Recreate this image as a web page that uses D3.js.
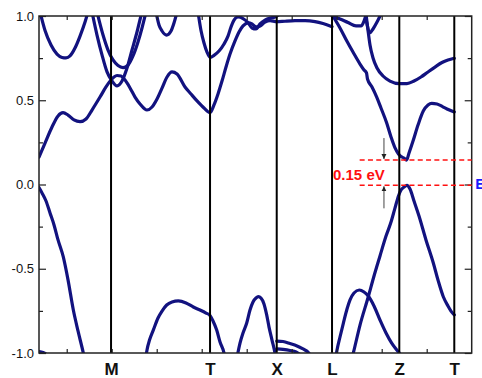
<!DOCTYPE html>
<html>
<head>
<meta charset="utf-8">
<script src="https://cdn.jsdelivr.net/npm/d3@7"></script>
<style>
  html, body { margin: 0; padding: 0; background: #fff; }
  svg { display: block; }
  text { font-family: "Liberation Sans", Arial, sans-serif; }
</style>
</head>
<body>
<svg id="chart" width="482" height="378"></svg>
<script>
// ---- k-path and energy axes ----
const kDomain = [0.384, 10];
const eDomain = [-1, 1];
const kTicks = [1, 2, 3, 4, 5, 6, 7, 8, 9];
const eTicksMajor = [-1, -0.5, 0, 0.5, 1];
const eTicksMinor = [-0.75, -0.25, 0.25, 0.75];

// high-symmetry points along the path
const kPoints = [1.985, 4.185, 5.667, 6.896, 8.391, 9.613];
const kLabels = ["M", "T", "X", "L", "Z", "T"];

// band edges around the gap (eV)
const vbm = -0.005;
const cbm = 0.145;

// ---- bands: [k, E(eV)] ----
const bandA = [
  [0.384,0.163],[0.518,0.246],[0.673,0.341],[0.807,0.407],[0.918,0.426],[1.029,0.412],
  [1.162,0.383],[1.296,0.373],[1.429,0.389],[1.562,0.442],[1.740,0.519],[1.873,0.579],
  [1.984,0.620],[2.051,0.638],[2.118,0.647],[2.207,0.644],[2.296,0.620],[2.407,0.573],
  [2.518,0.519],[2.629,0.478],[2.784,0.442],[2.896,0.460],[3.007,0.507],[3.118,0.572],
  [3.229,0.638],[3.340,0.668],[3.451,0.656],[3.629,0.579],[3.762,0.537],[3.896,0.496],
  [4.051,0.454],[4.185,0.427],[4.273,0.472],[4.362,0.537],[4.451,0.614],[4.540,0.697],
  [4.629,0.774],[4.740,0.852],[4.829,0.905],[4.918,0.941],[5.029,0.959],[5.118,0.953],
  [5.207,0.935],[5.296,0.941],[5.407,0.964],[5.518,0.973],[5.667,0.966],[5.851,0.969],
  [6.073,0.972],[6.296,0.973],[6.518,0.967],[6.696,0.955],[6.896,0.936]
];
const bandB = [
  [0.407,1.024],[0.518,0.914],[0.651,0.828],[0.784,0.774],[0.896,0.754],[0.984,0.751],
  [1.073,0.763],[1.184,0.810],[1.296,0.881],[1.407,0.964],[1.473,1.024]
];
const bandD = [
  [1.562,1.024],[1.673,0.887],[1.784,0.769],[1.896,0.668],[2.007,0.614],[2.118,0.585],
  [2.229,0.614],[2.340,0.691],[2.451,0.798],[2.562,0.905],[2.651,1.000],[2.696,1.036]
];
const bandE = [
  [1.673,1.024],[1.807,0.887],[1.918,0.798],[2.029,0.739],[2.140,0.706],[2.251,0.694],
  [2.362,0.709],[2.473,0.763],[2.584,0.846],[2.673,0.929],[2.762,1.024]
];
const bandG = [
  [2.984,1.024],[3.051,0.947],[3.118,0.911],[3.218,0.887],[3.318,0.911],[3.384,0.958],[3.451,1.024]
];
const bandH = [
  [3.918,1.024],[3.984,0.914],[4.051,0.840],[4.118,0.786],[4.191,0.754],[4.273,0.766],
  [4.384,0.792],[4.496,0.834],[4.584,0.881],[4.651,0.935],[4.718,0.976],[4.807,0.994],
  [4.918,0.985],[5.029,0.961],[5.118,0.929],[5.207,0.923],[5.296,0.953],[5.407,0.976],
  [5.518,0.988],[5.629,0.994],[5.740,1.012],[5.829,1.030]
];
const bandW1 = [
  [6.896,1.000],[7.073,0.982],[7.251,0.961],[7.429,0.941],[7.540,0.941],[7.607,0.970],[7.651,1.006]
];
const bandW2 = [
  [7.629,1.018],[7.673,0.953],[7.729,0.899],[7.807,0.923],[7.896,0.964],[7.984,1.012]
];
const bandUpperZ = [
  [7.651,1.012],[7.696,0.914],[7.740,0.828],[7.807,0.751],[7.896,0.691],[8.029,0.644],
  [8.184,0.614],[8.391,0.599],[8.562,0.599],[8.718,0.614],[8.873,0.638],[9.029,0.668],
  [9.184,0.697],[9.340,0.724],[9.473,0.739],[9.613,0.749]
];
const bandCB = [
  [6.924,0.996],[7.073,0.929],[7.222,0.853],[7.362,0.786],[7.518,0.715],[7.607,0.680],
  [7.662,0.662],[7.684,0.626],[7.784,0.579],[7.889,0.519],[7.984,0.454],[8.111,0.365],
  [8.207,0.282],[8.296,0.217],[8.373,0.181],[8.429,0.166],[8.496,0.157],[8.551,cbm],
  [8.607,0.187],[8.696,0.258],[8.807,0.353],[8.924,0.436],[9.029,0.472],[9.111,0.482],
  [9.229,0.478],[9.351,0.462],[9.451,0.448],[9.613,0.430]
];
const bandVB = [
  [7.329,-1.042],[7.369,-1.000],[7.518,-0.834],[7.702,-0.666],[7.829,-0.543],[7.962,-0.424],
  [8.096,-0.306],[8.207,-0.223],[8.296,-0.139],[8.373,-0.068],[8.429,-0.033],[8.496,-0.015],
  [8.562,vbm],[8.629,-0.027],[8.718,-0.098],[8.829,-0.187],[8.984,-0.329],[9.147,-0.466],
  [9.251,-0.567],[9.369,-0.666],[9.473,-0.721],[9.540,-0.751],[9.613,-0.774]
];
const bandLZ = [
  [6.962,-1.053],[7.007,-0.982],[7.073,-0.905],[7.147,-0.824],[7.229,-0.739],[7.296,-0.685],
  [7.384,-0.644],[7.502,-0.626],[7.607,-0.638],[7.702,-0.662],[7.829,-0.721],[7.962,-0.804],
  [8.096,-0.881],[8.222,-0.941],[8.318,-0.976],[8.391,-1.000],[8.451,-1.024]
];
const bandTX = [
  [4.773,-1.042],[4.851,-0.941],[4.918,-0.881],[5.000,-0.822],[5.073,-0.745],[5.140,-0.697],
  [5.207,-0.674],[5.258,-0.666],[5.318,-0.674],[5.384,-0.709],[5.444,-0.774],[5.496,-0.846],
  [5.562,-0.923],[5.629,-1.000],[5.651,-1.030]
];
const bandMT = [
  [2.751,-1.042],[2.784,-0.982],[2.840,-0.923],[2.924,-0.864],[3.029,-0.792],[3.118,-0.751],
  [3.222,-0.715],[3.340,-0.697],[3.480,-0.691],[3.651,-0.703],[3.813,-0.727],[3.962,-0.745],
  [4.096,-0.763],[4.184,-0.777],[4.251,-0.810],[4.333,-0.864],[4.407,-0.935],[4.496,-1.000],
  [4.518,-1.030]
];
const bandGammaVB = [
  [0.384,-0.018],[0.451,-0.050],[0.540,-0.098],[0.629,-0.169],[0.718,-0.240],[0.807,-0.329],
  [0.924,-0.430],[1.029,-0.566],[1.147,-0.745],[1.251,-0.869],[1.369,-1.000],[1.407,-1.047]
];
const bandGammaLow = [
  [0.384,-0.991],[0.473,-0.997],[0.540,-1.006],[0.584,-1.030]
];
const bandXL1 = [
  [5.667,-0.929],[5.807,-0.932],[5.962,-0.944],[6.118,-0.958],[6.251,-0.976],[6.362,-0.994],[6.429,-1.018]
];
const bandXL2 = [
  [5.667,-0.976],[5.807,-0.979],[5.962,-0.985],[6.096,-0.994],[6.184,-1.009]
];

const bands = [bandA, bandB, bandD, bandE, bandG, bandH, bandW1, bandW2, bandUpperZ,
  bandCB, bandVB, bandLZ, bandTX, bandMT, bandGammaVB, bandGammaLow, bandXL1, bandXL2];

// ---- layout ----
const svg = d3.select("#chart");
const plot = { left: 39, right: 471.7, top: 16, bottom: 353 };

const x = d3.scaleLinear().domain(kDomain).range([plot.left, plot.right]);
const y = d3.scaleLinear().domain(eDomain).range([plot.bottom, plot.top]);

const frameColor = "#222";
const bandColor = "#12127f";

svg.append("defs").append("clipPath").attr("id", "plot-clip")
  .append("rect")
  .attr("x", plot.left).attr("y", plot.top)
  .attr("width", plot.right - plot.left).attr("height", plot.bottom - plot.top);

// band lines
const line = d3.line()
  .x(d => x(d[0]))
  .y(d => y(d[1]))
  .curve(d3.curveMonotoneX);

svg.append("g").attr("clip-path", "url(#plot-clip)")
  .selectAll("path")
  .data(bands)
  .join("path")
  .attr("d", line)
  .attr("fill", "none")
  .attr("stroke", bandColor)
  .attr("stroke-width", 3.2)
  .attr("stroke-linejoin", "round")
  .attr("stroke-linecap", "round");

// high-symmetry verticals
svg.append("g")
  .selectAll("line")
  .data(kPoints)
  .join("line")
  .attr("x1", d => x(d)).attr("x2", d => x(d))
  .attr("y1", plot.top).attr("y2", plot.bottom)
  .attr("stroke", "#000")
  .attr("stroke-width", 2);

// axes (inward ticks)
function styleAxis(g) {
  g.select(".domain").remove();
  g.selectAll(".tick line").attr("stroke", frameColor).attr("stroke-width", 1.2);
}

svg.append("g")
  .attr("transform", `translate(${plot.left},0)`)
  .call(d3.axisLeft(y).tickValues(eTicksMajor).tickSize(-7).tickPadding(5)
    .tickFormat(d3.format(".1f")))
  .call(styleAxis)
  .call(g => g.selectAll("text").attr("font-size", 13).attr("fill", "#111")
    .text(d => d3.format(".1f")(d).replace("−", "-")));

svg.append("g")
  .attr("transform", `translate(${plot.left},0)`)
  .call(d3.axisLeft(y).tickValues(eTicksMinor).tickSize(-4).tickFormat(""))
  .call(styleAxis);

svg.append("g")
  .attr("transform", `translate(${plot.right},0)`)
  .call(d3.axisRight(y).tickValues(eTicksMajor).tickSize(-7).tickFormat(""))
  .call(styleAxis);

svg.append("g")
  .attr("transform", `translate(${plot.right},0)`)
  .call(d3.axisRight(y).tickValues(eTicksMinor).tickSize(-4).tickFormat(""))
  .call(styleAxis);

svg.append("g")
  .attr("transform", `translate(0,${plot.bottom})`)
  .call(d3.axisBottom(x).tickValues(kTicks).tickSize(-4).tickFormat(""))
  .call(styleAxis);

svg.append("g")
  .attr("transform", `translate(0,${plot.top})`)
  .call(d3.axisTop(x).tickValues(kTicks).tickSize(-4).tickFormat(""))
  .call(styleAxis);

// high-symmetry labels
svg.append("g")
  .attr("transform", `translate(0,${plot.bottom})`)
  .call(d3.axisBottom(x).tickValues(kPoints).tickSize(0).tickPadding(10)
    .tickFormat((d, i) => kLabels[i]))
  .call(g => g.select(".domain").remove())
  .call(g => g.selectAll("text").attr("font-size", 17).attr("font-weight", "bold").attr("fill", "#111"));

// frame
svg.append("rect")
  .attr("x", plot.left).attr("y", plot.top)
  .attr("width", plot.right - plot.left).attr("height", plot.bottom - plot.top)
  .attr("fill", "none")
  .attr("stroke", frameColor)
  .attr("stroke-width", 1.5);

// gap annotation
const gapX0 = x(7.51);
const gapColor = "#ff1010";
svg.append("g")
  .selectAll("line")
  .data([cbm, vbm])
  .join("line")
  .attr("x1", gapX0).attr("x2", plot.right)
  .attr("y1", d => y(d)).attr("y2", d => y(d))
  .attr("stroke", gapColor)
  .attr("stroke-width", 1.5)
  .attr("stroke-dasharray", "5,3.3");

svg.append("text")
  .attr("x", x(6.918))
  .attr("y", (y(cbm) + y(vbm)) / 2 + 7)
  .attr("font-size", 15)
  .attr("font-weight", "bold")
  .attr("fill", gapColor)
  .text(`${(cbm - vbm).toFixed(2)} eV`);

// arrows pointing at the band edges
const defs = svg.select("defs");
defs.append("marker")
  .attr("id", "arrowhead")
  .attr("viewBox", "0 0 10 10")
  .attr("refX", 10).attr("refY", 5)
  .attr("markerWidth", 5).attr("markerHeight", 7)
  .attr("markerUnits", "userSpaceOnUse")
  .attr("orient", "auto")
  .append("path")
  .attr("d", "M0,0 L10,5 L0,10 Z")
  .attr("fill", "#222");

const arrowX = x(8.05);
svg.append("line")
  .attr("x1", arrowX).attr("x2", arrowX)
  .attr("y1", y(cbm) - 22).attr("y2", y(cbm) - 1)
  .attr("stroke", "#444").attr("stroke-width", 1)
  .attr("marker-end", "url(#arrowhead)");
svg.append("line")
  .attr("x1", arrowX).attr("x2", arrowX)
  .attr("y1", y(vbm) + 23).attr("y2", y(vbm) + 1)
  .attr("stroke", "#444").attr("stroke-width", 1)
  .attr("marker-end", "url(#arrowhead)");

// Fermi level tag at the right edge
svg.append("text")
  .attr("x", plot.right + 3.5)
  .attr("y", y(0) + 4)
  .attr("font-size", 15)
  .attr("font-weight", "bold")
  .attr("fill", "#1a1aff")
  .text("E");
</script>
</body>
</html>
